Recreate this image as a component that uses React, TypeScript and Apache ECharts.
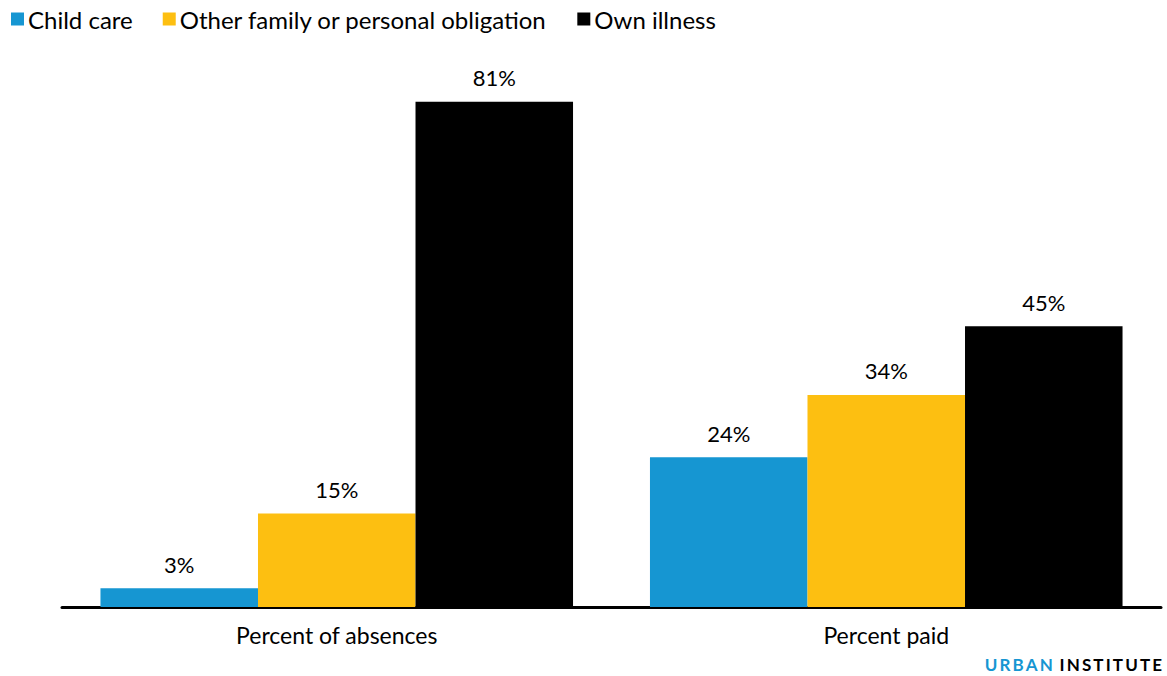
import React, { useEffect, useRef } from "react";
import * as echarts from "echarts";

const categories = ["Percent of absences", "Percent paid"];
const childCare = [3, 24];
const otherFamily = [15, 34];
const ownIllness = [81, 45];
const seriesNames = ["Child care", "Other family or personal obligation", "Own illness"];
const colors = ["#1696d2", "#fdbf11", "#000000"];

const spaced = (s: string) => s.split("").join("\u2009");

export default function App() {
  const ref = useRef<HTMLDivElement>(null);
  useEffect(() => {
    if (!ref.current) return;
    const chart = echarts.init(ref.current, null, { renderer: "svg" });
    const font = "Lato, 'Noto Sans', sans-serif";
    const mk = (name: string, data: number[], color: string) => ({
      name,
      type: "bar",
      data,
      barGap: "0%",
      barCategoryGap: "14%",
      itemStyle: { color },
      label: {
        show: true,
        position: "top",
        distance: 13,
        formatter: "{c}%",
        color: "#000",
        fontSize: 22,
        fontFamily: font,
      },
    });
    chart.setOption({
      animation: false,
      textStyle: { fontFamily: font },
      legend: {
        left: 6,
        top: 2,
        itemWidth: 13,
        itemHeight: 13,
        itemGap: 30,
        icon: "rect",
        textStyle: { fontSize: 24, color: "#000", fontFamily: font, padding: [0, 0, 0, -1] },
        data: seriesNames,
      },
      grid: { left: 62, right: 6, top: 80, bottom: 69 },
      xAxis: {
        type: "category",
        data: categories,
        axisLine: { lineStyle: { color: "#000", width: 3 } },
        axisTick: { show: false },
        axisLabel: { fontSize: 23, color: "#000", fontFamily: font, margin: 16 },
      },
      yAxis: {
        type: "value",
        min: 0,
        max: 84.5,
        show: false,
        splitLine: { show: false },
      },
      series: [
        mk(seriesNames[0], childCare, colors[0]),
        mk(seriesNames[1], otherFamily, colors[1]),
        mk(seriesNames[2], ownIllness, colors[2]),
      ],
      graphic: [
        {
          type: "text",
          right: 5,
          top: 656,
          style: {
            text: "{a|" + spaced("URBAN") + "}  {b|" + spaced("INSTITUTE") + "}",
            rich: {
              a: { fill: "#1696d2", fontSize: 17, fontWeight: "bold", fontFamily: font },
              b: { fill: "#000", fontSize: 17, fontWeight: "bold", fontFamily: font },
            },
          },
        },
      ],
    });
    return () => chart.dispose();
  }, []);
  return <div ref={ref} style={{ width: 1167, height: 676, position: "absolute", left: 0, top: 0 }} />;
}
